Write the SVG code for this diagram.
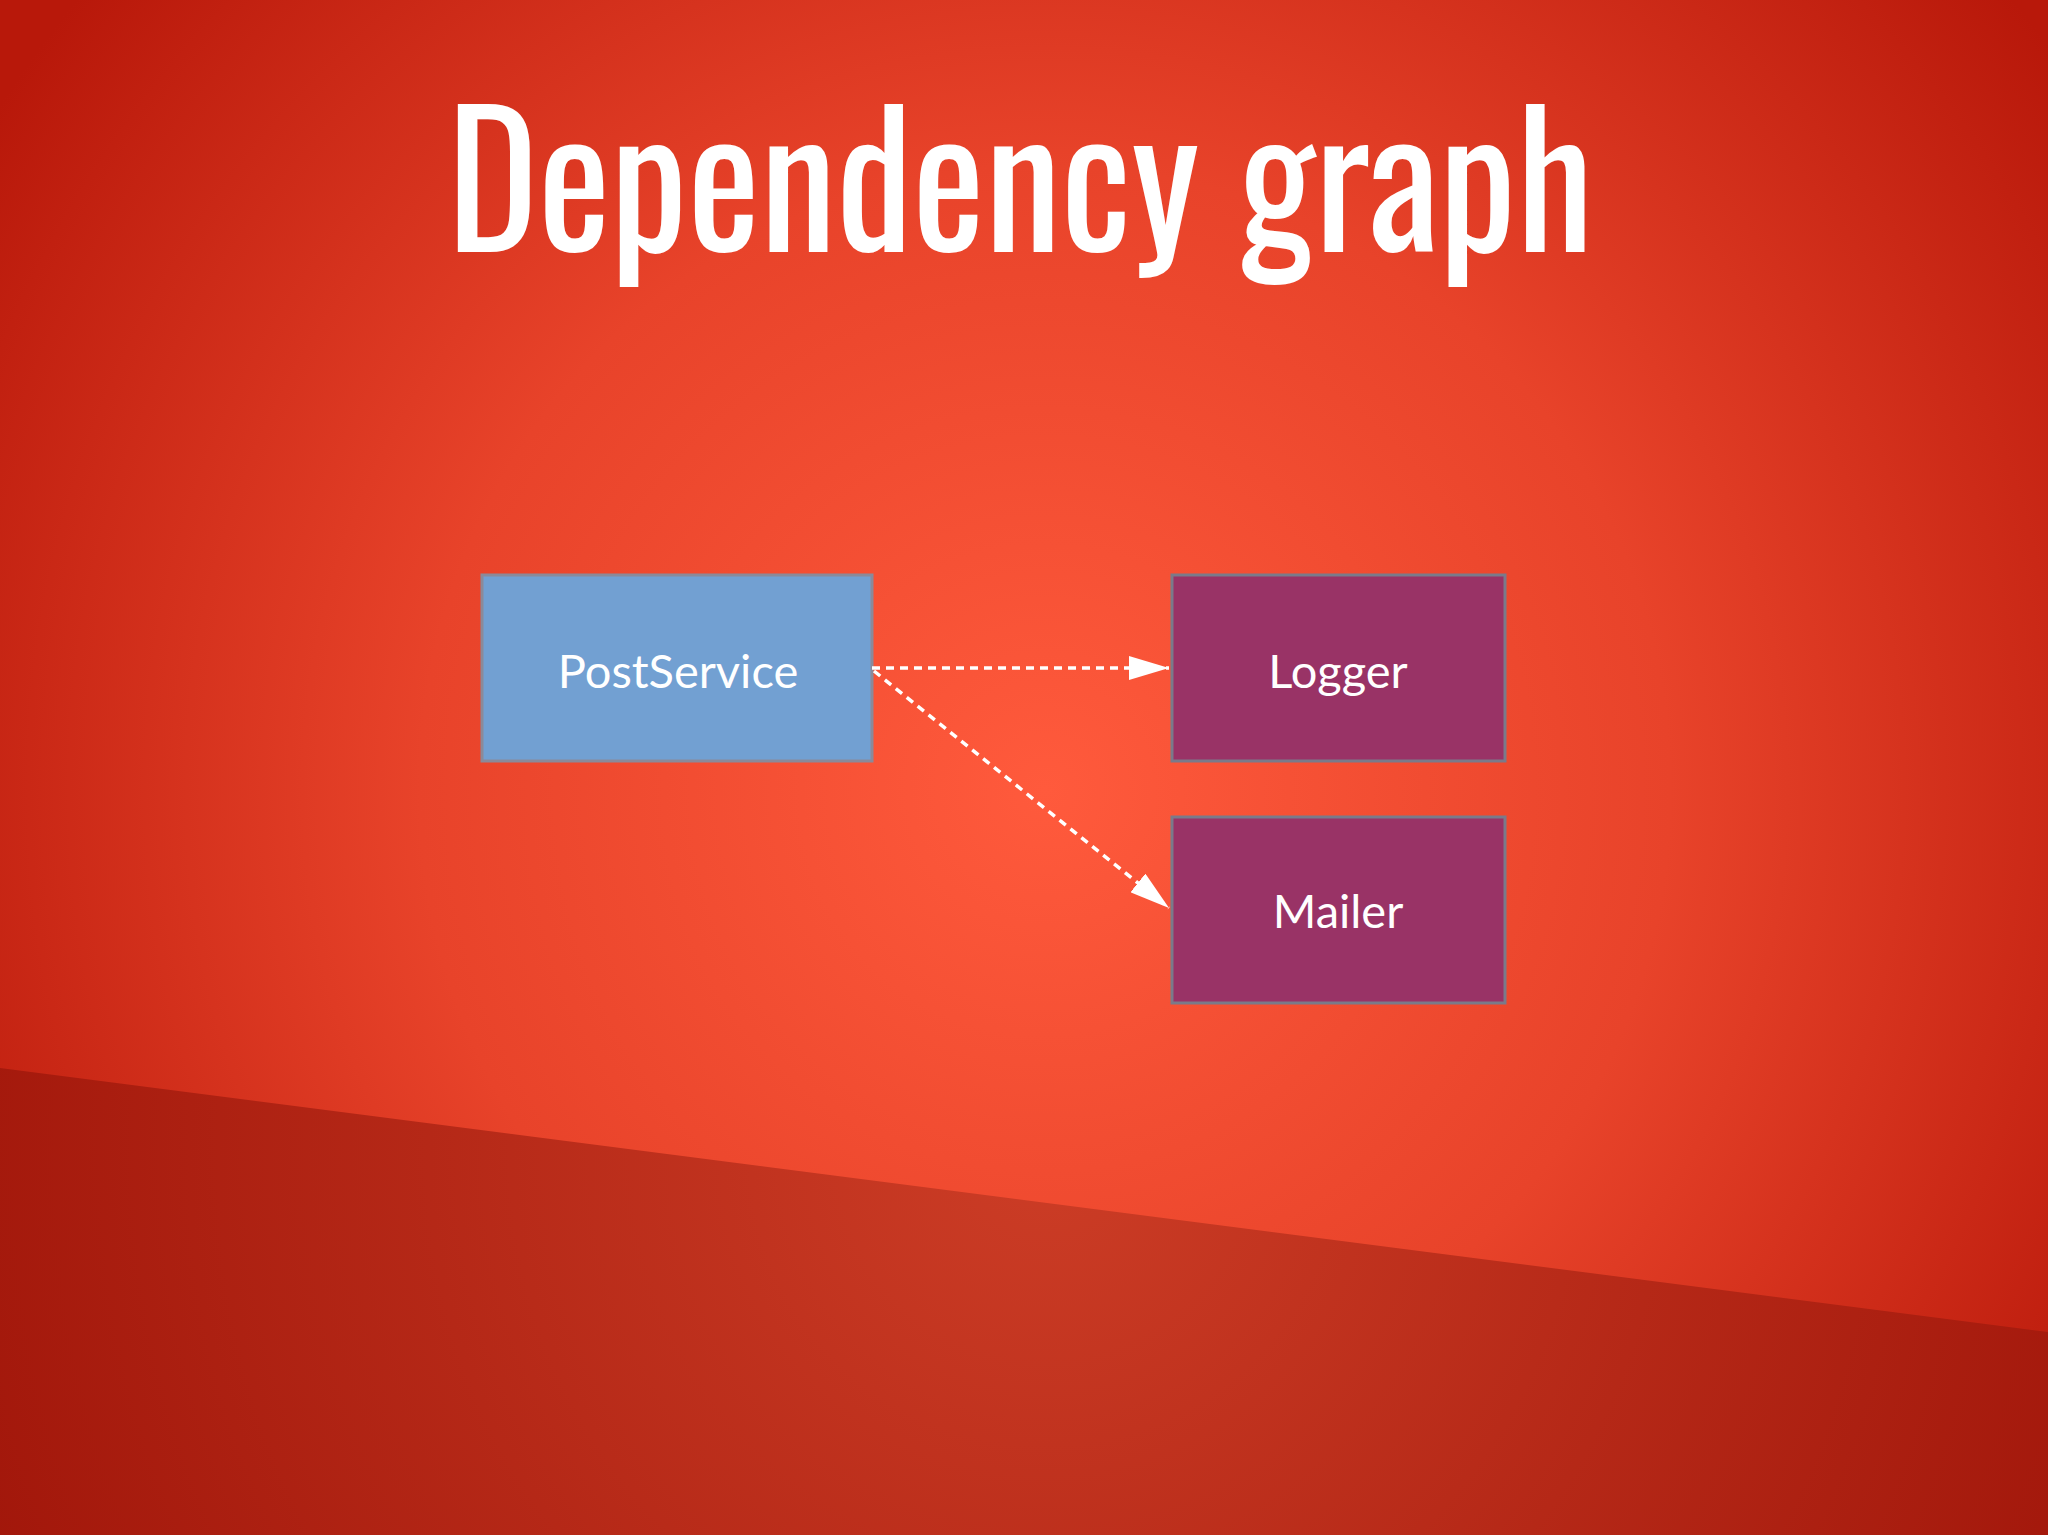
<svg xmlns="http://www.w3.org/2000/svg" width="2048" height="1535" viewBox="0 0 2048 1535">
<defs>
<radialGradient id="bg" cx="1045" cy="790" r="1250" gradientUnits="userSpaceOnUse">
<stop offset="0" stop-color="#ff5a3c"/><stop offset="0.5" stop-color="#e8432a"/><stop offset="1" stop-color="#b8180a"/>
</radialGradient>
<radialGradient id="bg2" cx="1045" cy="1150" r="1150" gradientUnits="userSpaceOnUse">
<stop offset="0" stop-color="#cc3d26"/><stop offset="1" stop-color="#a1160a"/>
</radialGradient>
<marker id="ahb" viewBox="0 0 40 24" refX="40" refY="12" markerWidth="40" markerHeight="24" markerUnits="userSpaceOnUse" orient="auto">
<path d="M0,0 L40,12 L0,24 z" fill="#fff"/>
</marker>
</defs>
<style>
.node text{font-family:Lato,"Open Sans",sans-serif;font-size:47px;fill:#fff;text-anchor:middle;dominant-baseline:central}
.blue{fill:#72a0d2;stroke:#8a8a9a;stroke-width:3}
.purple{fill:#993366;stroke:#7a7a8a;stroke-width:3}
.conn{stroke:#fff;stroke-width:3.5;stroke-dasharray:8 6;fill:none}
</style>
<rect width="2048" height="1535" fill="url(#bg)"/>
<polygon points="0,1068 2048,1332 2048,1535 0,1535" fill="url(#bg2)"/>
<text x="1020" y="252" font-family="Oswald,'Liberation Sans Narrow','Liberation Sans',sans-serif" font-size="182" fill="#fff" text-anchor="middle" textLength="1146" lengthAdjust="spacingAndGlyphs">Dependency graph</text>
<g id="postservice" class="node"><rect class="blue" x="482" y="575" width="390" height="186"/><text x="678" y="670">PostService</text></g>
<g id="logger" class="node"><rect class="purple" x="1172" y="575" width="333" height="186"/><text x="1338" y="670">Logger</text></g>
<g id="mailer" class="node"><rect class="purple" x="1172" y="817" width="333" height="186"/><text x="1338" y="910">Mailer</text></g>
<g id="connectors">
<line class="conn" x1="872" y1="668" x2="1169" y2="668" marker-end="url(#ahb)"/>
<line class="conn" x1="874" y1="671" x2="1169" y2="908" marker-end="url(#ahb)"/>
</g>
</svg>
